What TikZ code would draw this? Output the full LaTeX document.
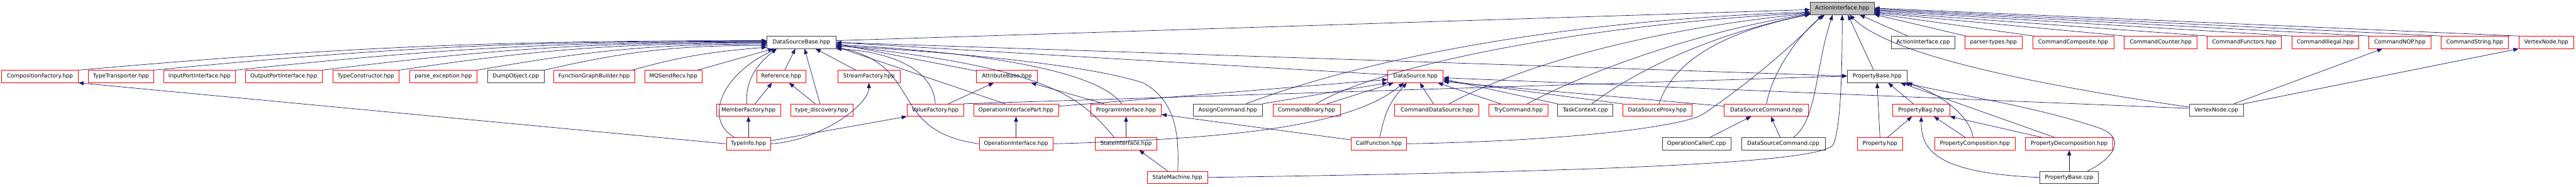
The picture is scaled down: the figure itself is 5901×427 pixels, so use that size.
\documentclass[tikz,border=0pt]{standalone}
\usepackage{fontspec}
\setmainfont{DejaVu Sans}
\usetikzlibrary{arrows.meta}

\definecolor{edgeblue}{HTML}{191970}
\definecolor{framegray}{HTML}{404040}
\definecolor{rootgray}{HTML}{BFBFBF}
\newcommand\doxfont{\fontsize{12.6pt}{15pt}\selectfont}

\begin{document}
\begin{tikzpicture}[x=1pt, y=-1pt,
  file/.style={draw=framegray, line width=1pt, minimum height=28pt, inner sep=0pt, font=\doxfont},
  redfile/.style={file, draw=red},
  incl/.style={draw=edgeblue, line width=1pt, -{Triangle[length=12pt, width=9pt]}}]

  \useasboundingbox (0,0) rectangle (5901,427);

  \node[file, fill=rootgray, minimum width=146pt] (ai) at (4220,19.5) {ActionInterface.hpp};

  \node[file, minimum width=158pt] (dsb) at (1836,97) {DataSourceBase.hpp};
  \node[file, minimum width=145pt] (aicpp) at (4405.5,97) {ActionInterface.cpp};
  \node[redfile, minimum width=131pt] (parsertypes) at (4566.5,97) {parser-types.hpp};
  \node[redfile, minimum width=186pt] (cmdcomposite) at (4749,97) {CommandComposite.hpp};
  \node[redfile, minimum width=167pt] (cmdcounter) at (4949.5,97) {CommandCounter.hpp};
  \node[redfile, minimum width=170pt] (cmdfunctors) at (5141,97) {CommandFunctors.hpp};
  \node[redfile, minimum width=153pt] (cmdillegal) at (5326.5,97) {CommandIllegal.hpp};
  \node[redfile, minimum width=143pt] (cmdnop) at (5497.5,97) {CommandNOP.hpp};
  \node[redfile, minimum width=154pt] (cmdstring) at (5669,97) {CommandString.hpp};
  \node[redfile, minimum width=126pt] (vertexhpp) at (5833,97) {VertexNode.hpp};

  \node[redfile, minimum width=175pt] (compfactory) at (91.5,175) {CompositionFactory.hpp};
  \node[redfile, minimum width=150pt] (typetransporter) at (277,175) {TypeTransporter.hpp};
  \node[redfile, minimum width=164pt] (inputport) at (457,175) {InputPortInterface.hpp};
  \node[redfile, minimum width=176pt] (outputport) at (650,175) {OutputPortInterface.hpp};
  \node[redfile, minimum width=152pt] (typeconstructor) at (838,175) {TypeConstructor.hpp};
  \node[redfile, minimum width=155pt] (parseexc) at (1015.5,175) {parse\_exception.hpp};
  \node[file, minimum width=129pt] (dumpobject) at (1181.5,175) {DumpObject.cpp};
  \node[redfile, minimum width=186pt] (fgbuilder) at (1361,175) {FunctionGraphBuilder.hpp};
  \node[redfile, minimum width=131pt] (mqsendrecv) at (1542.5,175) {MQSendRecv.hpp};
  \node[redfile, minimum width=113pt] (reference) at (1789.5,175) {Reference.hpp};
  \node[redfile, minimum width=143pt] (streamfactory) at (1990.5,175) {StreamFactory.hpp};
  \node[redfile, minimum width=139pt] (attributebase) at (2306.5,175) {AttributeBase.hpp};
  \node[redfile, minimum width=127pt] (datasource) at (3242.5,175) {DataSource.hpp};
  \node[file, minimum width=136pt] (pb) at (4300,175) {PropertyBase.hpp};

  \node[redfile, minimum width=147pt] (memberfactory) at (1714.5,252) {MemberFactory.hpp};
  \node[redfile, minimum width=143pt] (typediscovery) at (1882.5,252) {type\_discovery.hpp};
  \node[redfile, minimum width=129pt] (valuefactory) at (2142.5,252) {ValueFactory.hpp};
  \node[redfile, minimum width=195pt] (opinterfacepart) at (2327.5,252) {OperationInterfacePart.hpp};
  \node[redfile, minimum width=161pt] (programinterface) at (2579.5,252) {ProgramInterface.hpp};
  \node[file, minimum width=159pt] (assign) at (2812.5,252) {AssignCommand.hpp};
  \node[redfile, minimum width=154pt] (cmdbinary) at (2993,252) {CommandBinary.hpp};
  \node[redfile, minimum width=193pt] (cmddatasource) at (3291.5,252) {CommandDataSource.hpp};
  \node[redfile, minimum width=135pt] (trycmd) at (3478.5,252) {TryCommand.hpp};
  \node[file, minimum width=127pt] (taskctx) at (3631.5,252) {TaskContext.cpp};
  \node[redfile, minimum width=159pt] (dsproxy) at (3796.5,252) {DataSourceProxy.hpp};
  \node[redfile, minimum width=193pt] (dscmdhpp) at (4046.5,252) {DataSourceCommand.hpp};
  \node[redfile, minimum width=130pt] (propertybag) at (4401,252) {PropertyBag.hpp};
  \node[file, minimum width=124pt] (vertexcpp) at (5077,252) {VertexNode.cpp};

  \node[redfile, minimum width=101pt] (typeinfo) at (1714.5,329) {TypeInfo.hpp};
  \node[redfile, minimum width=169pt] (opinterface) at (2327.5,329) {OperationInterface.hpp};
  \node[redfile, minimum width=141pt] (stateinterface) at (2579.5,329) {StateInterface.hpp};
  \node[redfile, minimum width=127pt] (callfunction) at (3158.5,329) {CallFunction.hpp};
  \node[file, minimum width=157pt] (opcallerc) at (3886.5,329) {OperationCallerC.cpp};
  \node[file, minimum width=192pt] (dscmdcpp) at (4085,329) {DataSourceCommand.cpp};
  \node[redfile, minimum width=103pt] (property) at (4306.5,329) {Property.hpp};
  \node[redfile, minimum width=184pt] (propcomposition) at (4524,329) {PropertyComposition.hpp};
  \node[redfile, minimum width=200pt] (propdecomposition) at (4740,329) {PropertyDecomposition.hpp};

  \node[redfile, minimum width=138pt] (statemachine) at (2697,406) {StateMachine.hpp};
  \node[file, minimum width=134pt] (pbcpp) at (4740,406) {PropertyBase.cpp};

  % ActionInterface.hpp
  \draw[incl] ([yshift=4pt]dsb.east) -- ([yshift=-2.5pt]ai.west);
  \draw[incl] ([xshift=-35pt]aicpp.north) -- ([xshift=40pt]ai.south);
  \draw[incl] ([xshift=3pt]parsertypes.north west) -- ([yshift=1pt]ai.south east);
  \draw[incl] ([xshift=3pt]cmdcomposite.north west) -- ([yshift=3pt]ai.south east);
  \draw[incl] ([xshift=3pt]cmdcounter.north west) -- ([yshift=5pt]ai.south east);
  \draw[incl] ([xshift=3pt]cmdfunctors.north west) -- ([yshift=7pt]ai.south east);
  \draw[incl] ([xshift=3pt]cmdillegal.north west) -- ([yshift=-5pt]ai.east);
  \draw[incl] ([xshift=3pt]cmdnop.north west) -- ([yshift=-3pt]ai.east);
  \draw[incl] ([xshift=3pt]cmdstring.north west) -- ([yshift=-1pt]ai.east);
  \draw[incl] ([xshift=3pt]vertexhpp.north west) -- ([yshift=1pt]ai.east);
  \draw[incl] ([xshift=-8pt]pb.north) -- ([xshift=13pt]ai.south);
  \draw[incl] (dscmdhpp.north) .. controls +(15,-80) and +(-50,35) .. ([xshift=-40pt]ai.south);
  \draw[incl] ([xshift=23pt]dscmdcpp.north) .. controls +(55,-40) and +(-40,120) .. ([xshift=-22pt]ai.south);
  \draw[incl] (statemachine.east) .. controls (3700,392) and (4180,372) .. (4200,330) .. controls (4214,295) and (4220,200) .. (ai.south);
  \draw[incl] ([yshift=7pt]vertexcpp.west) .. controls +(-550,-80) and +(60,60) .. ([xshift=17pt]ai.south);
  \draw[incl] ([xshift=42pt]assign.north) .. controls +(250,-95) and +(-600,20) .. ([yshift=-8pt]ai.west);
  \draw[incl] ([xshift=22pt]cmdbinary.north) .. controls +(150,-90) and +(-500,25) .. ([yshift=-10pt]ai.west);
  \draw[incl] ([xshift=28pt]cmddatasource.north) .. controls +(150,-80) and +(-400,40) .. ([yshift=-11pt]ai.west);
  \draw[incl] ([xshift=20pt]trycmd.north) .. controls +(150,-80) and +(-250,40) .. ([yshift=-12pt]ai.west);
  \draw[incl] ([xshift=15pt]taskctx.north) .. controls +(120,-90) and +(-200,40) .. ([yshift=-13pt]ai.west);
  \draw[incl] ([xshift=4pt]dsproxy.north) .. controls +(40,-120) and +(-150,30) .. ([yshift=-13.5pt]ai.west);
  \draw[incl] (callfunction.east) .. controls (3600,322) and (3850,290) .. (3900,262) .. controls (4000,195) and (4100,110) .. ([xshift=-45pt]ai.south);

  % DataSourceBase.hpp
  \draw[incl] (compfactory.north east) .. controls +(616,-54) and +(-618,0) .. ([yshift=4pt]dsb.west);
  \draw[incl] (typetransporter.north east) .. controls +(548,-53) and +(-551,0) .. ([yshift=3pt]dsb.west);
  \draw[incl] (inputport.north east) .. controls +(475,-50) and +(-478,0) .. ([yshift=1.5pt]dsb.west);
  \draw[incl] (outputport.north east) .. controls +(397,-49) and +(-400,0) .. (dsb.west);
  \draw[incl] (typeconstructor.north east) .. controls +(327,-49) and +(-331,0) .. ([yshift=-2pt]dsb.west);
  \draw[incl] (parseexc.north east) .. controls +(257,-45) and +(-261,0) .. ([yshift=-4pt]dsb.west);
  \draw[incl] (dumpobject.north east) .. controls +(196,-45) and +(-201,0) .. ([yshift=-7pt]dsb.west);
  \draw[incl] ([xshift=-6pt]fgbuilder.north east) .. controls +(116,-33) and +(-120,10) .. ([yshift=-11pt]dsb.west);
  \draw[incl] ([xshift=-11pt]mqsendrecv.north east) -- ([xshift=15pt]dsb.south west);
  \draw[incl] ([xshift=8pt]reference.north) -- ([xshift=-14pt]dsb.south);
  \draw[incl] ([xshift=-4pt]typediscovery.north) -- ([xshift=7pt]dsb.south);
  \draw[incl] ([xshift=-30pt]streamfactory.north) -- ([xshift=32pt]dsb.south);
  \draw[incl] ([xshift=-4pt]memberfactory.north) .. controls +(-3,-55) and +(-45,35) .. ([xshift=23pt]dsb.south west);
  \draw[incl] ([xshift=-32pt]typeinfo.north) .. controls +(-70,-40) and +(-130,60) .. ([xshift=23pt]dsb.south west);
  \draw[incl] (valuefactory.north) .. controls +(-5,-90) and +(100,5) .. (dsb.south east);
  \draw[incl] ([yshift=-2pt]attributebase.north west) -- ([yshift=-3pt]dsb.east);
  \draw[incl] ([xshift=-25pt]opinterfacepart.north) -- ([yshift=-10pt]dsb.east);
  \draw[incl] (opinterface.west) .. controls (2030,300) and (2120,150) .. ([yshift=-11pt]dsb.east);
  \draw[incl] ([xshift=-10pt]programinterface.north) .. controls +(-50,-68) and +(385,21) .. ([yshift=-5pt]dsb.east);
  \draw[incl] ([xshift=-27pt]stateinterface.north) .. controls +(-73,-85) and +(505,52) .. ([yshift=-7pt]dsb.east);
  \draw[incl] ([xshift=1pt]statemachine.north) .. controls (2702,300) and (2690,230) .. (2620,190) .. controls (2500,150) and (2200,120) .. ([yshift=-8pt]dsb.east);
  \draw[incl] ([yshift=4pt]datasource.west) -- (dsb.east);
  \draw[incl] (dsb.east) -- ([yshift=1pt]pb.west);

  % types
  \draw[incl] (typeinfo.west) -- (compfactory.south east);
  \draw[incl] (typeinfo.north) -- (memberfactory.south);
  \draw[incl] ([yshift=7pt]typeinfo.east) -- (valuefactory.south west);
  \draw[incl] (typeinfo.east) .. controls +(115,-7) and +(0,50) .. (streamfactory.south);
  \draw[incl] ([xshift=15pt]memberfactory.north) -- ([xshift=-21pt]reference.south);
  \draw[incl] ([xshift=-15pt]typediscovery.north) -- ([xshift=18pt]reference.south);
  \draw[incl] ([xshift=30pt]valuefactory.north) -- ([xshift=-30pt]attributebase.south);
  \draw[incl] (valuefactory.north east) -- ([yshift=1pt]pb.west);
  \draw[incl] ([xshift=-50pt]programinterface.north) -- ([xshift=55pt]attributebase.south);

  % DataSource.hpp
  \draw[incl] (opinterface.north) -- (opinterfacepart.south);
  \draw[incl] ([yshift=9pt]opinterfacepart.east) -- ([yshift=-7pt]datasource.west);
  \draw[incl] (opinterface.east) .. controls +(440,-12) and +(-115,95) .. ([xshift=-27pt]datasource.south);
  \draw[incl] (stateinterface.north) -- (programinterface.south);
  \draw[incl] ([xshift=-22pt]statemachine.north) -- ([xshift=30pt]stateinterface.south);
  \draw[incl] ([yshift=9pt]callfunction.west) -- ([yshift=-10pt]programinterface.east);
  \draw[incl] ([xshift=2pt]callfunction.north) .. controls +(10,-45) and +(-45,50) .. ([xshift=-20pt]datasource.south);
  \draw[incl] (assign.north east) -- (datasource.south west);
  \draw[incl] ([xshift=47pt]cmdbinary.north) -- ([xshift=14pt]datasource.south west);
  \draw[incl] ([xshift=-8pt]cmddatasource.north) -- ([xshift=10pt]datasource.south);
  \draw[incl] ([xshift=-41pt]trycmd.north) -- ([xshift=-13pt]datasource.south east);
  \draw[incl] (taskctx.north west) -- ([yshift=-6pt]datasource.east);
  \draw[incl] (dsproxy.north west) -- ([yshift=-9pt]datasource.east);
  \draw[incl] ([yshift=9pt]dscmdhpp.west) -- ([yshift=-12pt]datasource.east);
  \draw[incl] ([yshift=4pt]vertexcpp.west) -- ([yshift=-3pt]datasource.east);
  \draw[incl] ([xshift=30pt]opcallerc.north) -- ([xshift=-35pt]dscmdhpp.south);
  \draw[incl] ([xshift=-7pt]dscmdcpp.north) -- ([xshift=10pt]dscmdhpp.south);

  % PropertyBase.hpp
  \draw[incl] (property.north) -- (pb.south);
  \draw[incl] ([xshift=-18pt]propertybag.north) -- ([xshift=25pt]pb.south);
  \draw[incl] ([xshift=17pt]property.north) -- ([xshift=-21pt]propertybag.south);
  \draw[incl] ([xshift=-22pt]propcomposition.north) -- ([xshift=29pt]propertybag.south);
  \draw[incl] ([xshift=-62pt]propdecomposition.north) -- (propertybag.south east);
  \draw[incl] ([xshift=-4pt]propcomposition.north) .. controls +(-10,-60) and +(60,15) .. ([xshift=-6pt]pb.south east);
  \draw[incl] ([xshift=-33pt]propdecomposition.north) -- ([xshift=-15pt]pb.south east);
  \draw[incl] ([xshift=42pt]pbcpp.north) .. controls +(70,-35) and +(70,20) .. (4800,290) .. controls +(-150,-50) and +(70,20) .. (pb.south east);
  \draw[incl] (pbcpp.north) -- (propdecomposition.south);
  \draw[incl] (pbcpp.west) .. controls +(-250,-10) and +(0,70) .. (propertybag.south);

  % VertexNode
  \draw[incl] ([xshift=40pt]vertexcpp.north) -- ([xshift=-40pt]cmdnop.south);
  \draw[incl] (vertexcpp.north east) -- (vertexhpp.south west);

\end{tikzpicture}
\end{document}
